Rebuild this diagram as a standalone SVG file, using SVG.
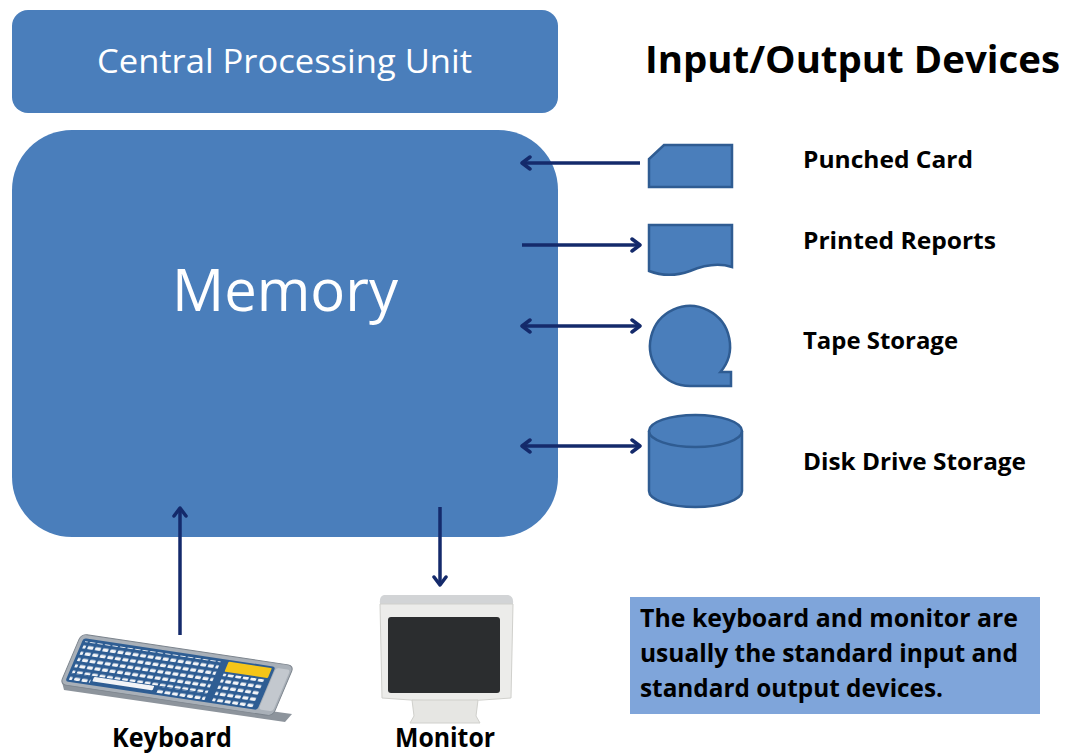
<svg xmlns="http://www.w3.org/2000/svg" width="1067" height="755" viewBox="0 0 1067 755">
<defs>
<style>
.blk{fill:#4a7ebb;}
.dev{fill:#4a7ebb;stroke:#2f5c92;stroke-width:2.5;}
.conn{stroke:#142a6b;stroke-width:3.5;fill:none;}
.wt{font-family:"Open Sans","Liberation Sans",sans-serif;fill:#ffffff;}
.bk{font-family:"Open Sans","Liberation Sans",sans-serif;font-weight:bold;fill:#000000;}
</style>
<marker id="ah" viewBox="0 0 12 16" refX="10" refY="8" markerWidth="12" markerHeight="16" markerUnits="userSpaceOnUse" orient="auto-start-reverse">
<path d="M2,2 L10,8 L2,14" fill="none" stroke="#142a6b" stroke-width="3.5" stroke-linecap="round" stroke-linejoin="round"/>
</marker>
<pattern id="keys" x="0" y="0" width="8" height="7" patternUnits="userSpaceOnUse">
<rect x="1" y="1.5" width="6" height="3.5" rx="1" fill="#f2f4f7"/>
</pattern>
</defs>
<rect width="1067" height="755" fill="#ffffff"/>

<g id="cpu">
<rect class="blk" x="12" y="10" width="546" height="103" rx="16"/>
<text class="wt" x="97" y="73" font-size="32" textLength="375" lengthAdjust="spacingAndGlyphs">Central Processing Unit</text>
</g>

<g id="memory">
<rect class="blk" x="12" y="130" width="546" height="407" rx="60"/>
<text class="wt" x="172" y="311" font-size="58" textLength="226" lengthAdjust="spacingAndGlyphs">Memory</text>
</g>

<g id="title">
<text class="bk" x="645" y="73" font-size="38" textLength="415" lengthAdjust="spacingAndGlyphs">Input/Output Devices</text>
</g>

<g id="punched-card">
<path class="dev" d="M664,145 L732,145 L732,187 L649,187 L649,159 Z"/>
<text class="bk" x="803" y="168" font-size="24" textLength="170" lengthAdjust="spacingAndGlyphs">Punched Card</text>
</g>

<g id="printed-reports">
<path class="dev" d="M649,225 L732,225 L732,267 C716,262 702,266 690,271 C676,276 662,276 649,271 Z"/>
<text class="bk" x="803" y="249" font-size="24" textLength="193" lengthAdjust="spacingAndGlyphs">Printed Reports</text>
</g>

<g id="tape-storage">
<path class="dev" d="M690,386 A40,40 0 1 1 720.4,372 L731,372 L731,386 Z"/>
<text class="bk" x="803" y="349" font-size="24" textLength="155" lengthAdjust="spacingAndGlyphs">Tape Storage</text>
</g>

<g id="disk-drive-storage">
<path class="dev" d="M649,431 L649,491 A46.5,16 0 0 0 742,491 L742,431"/>
<ellipse class="dev" cx="695.5" cy="431" rx="46.5" ry="16"/>
<text class="bk" x="803" y="470" font-size="24" textLength="223" lengthAdjust="spacingAndGlyphs">Disk Drive Storage</text>
</g>

<g id="note">
<rect x="630" y="597" width="410" height="117" fill="#7fa5da"/>
<text class="bk" x="640" y="627" font-size="25" textLength="378" lengthAdjust="spacingAndGlyphs">The keyboard and monitor are</text>
<text class="bk" x="640" y="662" font-size="25" textLength="378" lengthAdjust="spacingAndGlyphs">usually the standard input and</text>
<text class="bk" x="640" y="697" font-size="25" textLength="303" lengthAdjust="spacingAndGlyphs">standard output devices.</text>
</g>

<g id="keyboard">
<path d="M62,682 L64,690 L285,722 L292,714 Z" fill="#8d949c"/>
<g transform="matrix(0.941 0.141 -0.38 0.9 83 637)">
<rect x="-3" y="-3" width="226" height="56" rx="6" fill="#a9b0b8" stroke="#7c848d" stroke-width="1"/>
<rect x="1" y="1" width="204" height="48" rx="3" fill="#2e5d93"/>
<rect x="4" y="4" width="144" height="35" fill="url(#keys)"/>
<rect x="28" y="40" width="64" height="5" rx="1" fill="#f2f4f7"/>
<rect x="4" y="40" width="22" height="7" fill="url(#keys)"/>
<rect x="96" y="40" width="52" height="7" fill="url(#keys)"/>
<rect x="156" y="16" width="44" height="31" fill="url(#keys)"/>
<rect x="156" y="3" width="46" height="11" rx="1" fill="#f5c518"/>
<rect x="206" y="2" width="15" height="46" rx="3" fill="#c3c8ce"/>
</g>
<text class="bk" x="112" y="747" font-size="26" textLength="120" lengthAdjust="spacingAndGlyphs">Keyboard</text>
</g>

<g id="monitor">
<path d="M384,595 L508,595 Q514,596 513,604 L380,604 Q379,596 384,595 Z" fill="#d2d4d6"/>
<path d="M380,604 L513,604 L511,698 Q446,704 382,698 Z" fill="#ececea" stroke="#d0d0cc" stroke-width="1"/>
<rect x="388" y="617" width="112" height="76" rx="3" fill="#2b2d2f"/>
<path d="M412,700 L478,700 L476,716 L480,723 L410,723 L414,716 Z" fill="#e6e6e3" stroke="#d0d0cc" stroke-width="1"/>
<text class="bk" x="395" y="747" font-size="26" textLength="100" lengthAdjust="spacingAndGlyphs">Monitor</text>
</g>

<g id="connectors">
<line class="conn" x1="640" y1="163" x2="522" y2="163" marker-end="url(#ah)"/>
<line class="conn" x1="522" y1="245" x2="640" y2="245" marker-end="url(#ah)"/>
<line class="conn" x1="522" y1="326" x2="640" y2="326" marker-start="url(#ah)" marker-end="url(#ah)"/>
<line class="conn" x1="522" y1="446" x2="640" y2="446" marker-start="url(#ah)" marker-end="url(#ah)"/>
<line class="conn" x1="180" y1="635" x2="180" y2="508" marker-end="url(#ah)"/>
<line class="conn" x1="440" y1="507" x2="440" y2="585" marker-end="url(#ah)"/>
</g>
</svg>
